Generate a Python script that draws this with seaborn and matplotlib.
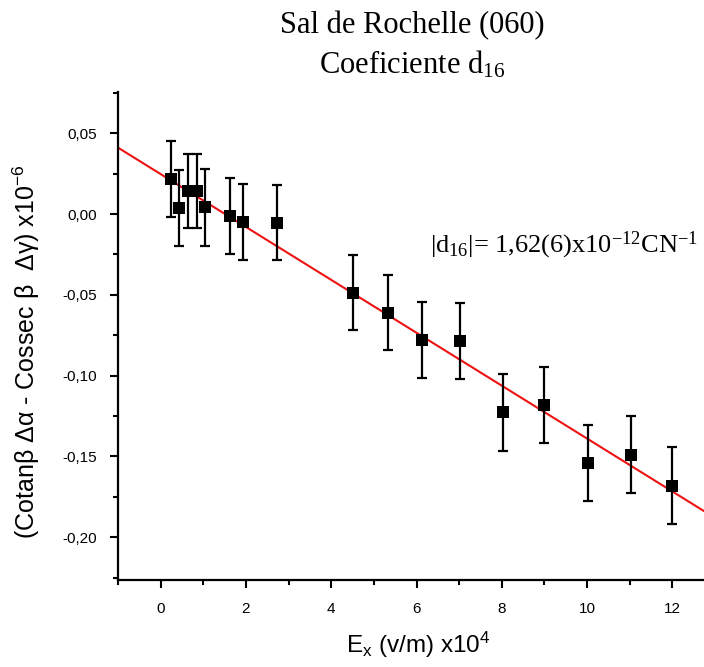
import numpy as np
import pandas as pd
import matplotlib
matplotlib.use("Agg")
import matplotlib.pyplot as plt
from matplotlib.ticker import FuncFormatter, MultipleLocator
import seaborn as sns

# ---- data ----
ex_values = [0.24, 0.44, 0.63, 0.85, 1.05, 1.63, 1.93, 2.73, 4.52, 5.33,
             6.12, 7.02, 8.03, 9.00, 10.02, 11.02, 12.00]
y_values = [0.0216, 0.0039, 0.0143, 0.0143, 0.0041, -0.0012, -0.0050, -0.0054,
            -0.0486, -0.0610, -0.0778, -0.0787, -0.1228, -0.1180, -0.1539,
            -0.1489, -0.1681]
y_errors = [0.0233, 0.0236, 0.0230, 0.0230, 0.0236, 0.0233, 0.0233, 0.0233,
            0.0233, 0.0233, 0.0236, 0.0236, 0.0236, 0.0236, 0.0236, 0.0236,
            0.0236]
fit_slope = -0.01637
fit_intercept = 0.0247

x_ticks = [0, 2, 4, 6, 8, 10, 12]
y_ticks = [-0.20, -0.15, -0.10, -0.05, 0.00, 0.05]

title_line1 = "Sal de Rochelle (060)"
title_line2 = r"Coeficiente d$\mathregular{_{16}}$"
annotation = r"|d$\mathregular{_{16}}$|= 1,62(6)x10$\mathregular{^{-12}}$CN$\mathregular{^{-1}}$"
x_label = r"E$\mathregular{_{x}}$ (v/m) x10$\mathregular{^{4}}$"
y_label = r"(Cotanβ Δα - Cossec β  Δγ) x10$\mathregular{^{-6}}$"

df = pd.DataFrame({"ex": ex_values, "y": y_values, "err": y_errors})

sns.set_theme(style="ticks")
plt.rcParams["font.family"] = ["Liberation Sans", "DejaVu Sans"]
plt.rcParams["text.color"] = "black"
plt.rcParams["axes.labelcolor"] = "black"
plt.rcParams["xtick.color"] = "black"
plt.rcParams["ytick.color"] = "black"

fig = plt.figure(figsize=(7.04, 6.67), dpi=100)
ax = fig.add_axes([118/704, 87/667, (704-118)/704, (580-92)/667])

xlim = (-1.0, 12.74)
ylim = (-0.2265, 0.0755)

# fit line spanning the axis
line_df = pd.DataFrame({"ex": list(xlim)})
line_df["y"] = fit_intercept + fit_slope * line_df["ex"]
sns.lineplot(data=line_df, x="ex", y="y", color="#ee1111", linewidth=1.5, ax=ax)

ax.errorbar(df["ex"], df["y"], yerr=df["err"], fmt="none", ecolor="black",
            elinewidth=1.6, capsize=3.6, capthick=1.6, zorder=3)
sns.scatterplot(data=df, x="ex", y="y", marker="s", s=70, color="black",
                edgecolor="black", linewidth=0, ax=ax, zorder=4)

ax.set_xlim(*xlim)
ax.set_ylim(*ylim)
ax.set_xticks(x_ticks)
ax.set_yticks(y_ticks)
ax.xaxis.set_minor_locator(MultipleLocator(1))
ax.yaxis.set_minor_locator(MultipleLocator(0.025))
ax.yaxis.set_major_formatter(FuncFormatter(lambda v, p: f"{v:.2f}".replace(".", ",").replace("-0,00", "0,00")))
ax.xaxis.set_major_formatter(FuncFormatter(lambda v, p: f"{v:.0f}"))

sns.despine(ax=ax, top=True, right=True)
for s in ("left", "bottom"):
    ax.spines[s].set_linewidth(1.6)
    ax.spines[s].set_color("black")
ax.tick_params(which="major", direction="out", length=6, width=1.5, labelsize=11,
               colors="black")
ax.tick_params(which="minor", direction="out", length=3.5, width=1.5, colors="black")
ax.tick_params(axis="y", which="major", pad=9)
ax.tick_params(axis="x", which="major", pad=10)

ax.set_xlabel(x_label, fontsize=17.5, color="black")
ax.set_ylabel(y_label, fontsize=18, color="black")
ax.xaxis.label.set_va("baseline")
ax.yaxis.label.set_va("baseline")
ax.xaxis.set_label_coords((418 - 118) / 586, (580 - 653) / 488)
ax.yaxis.set_label_coords((35 - 118) / 586, (580 - 352) / 488)

fig.text(412/704, 1 - 33/667, title_line1, family=["Liberation Serif"], fontsize=22,
         ha="center", va="baseline", color="black")
fig.text(412/704, 1 - 73/667, title_line2, family=["Liberation Serif"], fontsize=22,
         ha="center", va="baseline", color="black")
ax.text((430 - 118) / 586, (580 - 252) / 488, annotation, transform=ax.transAxes,
        family=["Liberation Serif"], fontsize=19, ha="left", va="baseline",
        color="black")

fig.savefig("out.png", dpi=100)
